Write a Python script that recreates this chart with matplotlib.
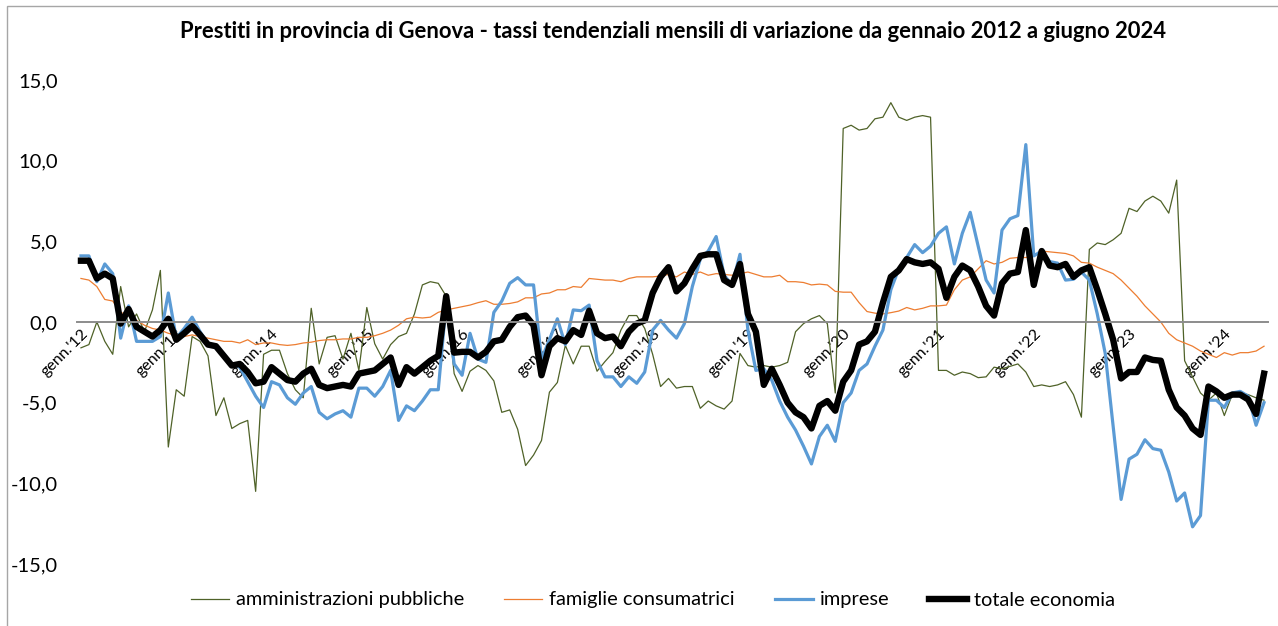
import numpy as np
import matplotlib.pyplot as plt
from matplotlib.patches import Rectangle
from matplotlib.ticker import FuncFormatter

plt.rcParams['font.family'] = ['Lato', 'DejaVu Sans']

# tassi tendenziali mensili, gen 2012 - giu 2024 (una riga per anno)
amministrazioni = [
    -1.6, -1.4, 0.0, -1.2, -2.0, 2.2, -0.3, 0.5, -0.6, 0.75, 3.2, -7.75,
    -4.2, -4.6, -0.9, -1.2, -2.1, -5.8, -4.7, -6.6, -6.3, -6.1, -10.5, -2.0,
    -1.75, -1.75, -3.2, -4.2, -4.7, 0.85, -2.6, -0.95, -0.85, -2.3, -0.7, -3.0,
    0.9, -1.35, -2.3, -1.4, -0.9, -0.7, 0.5, 2.3, 2.5, 2.4, 1.6, -3.2,
    -4.3, -3.05, -2.7, -3.0, -3.65, -5.6, -5.45, -6.65, -8.9, -8.25, -7.35, -4.35,
    -3.75, -1.45, -2.6, -1.5, -1.5, -3.05, -2.45, -1.9, -0.5, 0.4, 0.4, -0.4,
    -2.0, -4.0, -3.5, -4.1, -4.0, -4.0, -5.35, -4.9, -5.2, -5.4, -4.9, -1.95,
    -2.7, -2.8, -2.7, -2.8, -2.7, -2.5, -0.6, -0.1, 0.2, 0.4, -0.1, -4.4,
    12.0, 12.2, 11.9, 12.0, 12.6, 12.7, 13.6, 12.7, 12.5, 12.7, 12.8, 12.7,
    -3.0, -3.0, -3.3, -3.1, -3.2, -3.45, -3.4, -2.8, -2.9, -2.75, -2.6, -3.1,
    -4.0, -3.9, -4.0, -3.9, -3.7, -4.5, -5.9, 4.5, 4.9, 4.8, 5.1, 5.5,
    7.05, 6.85, 7.5, 7.8, 7.5, 6.75, 8.8, -2.4, -3.4, -4.4, -4.85, -4.4,
    -5.8, -4.5, -4.4, -4.5, -4.7, -4.85,
]
famiglie = [
    2.7, 2.6, 2.2, 1.4, 1.3, 0.6, 0.4, 0.1, -0.2, -0.4, -0.5, -0.7,
    -0.8, -0.9, -0.8, -0.9, -1.0, -1.1, -1.2, -1.2, -1.3, -1.1, -1.4, -1.3,
    -1.3, -1.4, -1.45, -1.4, -1.3, -1.25, -1.15, -1.1, -1.1, -1.05, -1.05, -0.95,
    -0.95, -0.85, -0.7, -0.5, -0.2, 0.2, 0.3, 0.25, 0.3, 0.6, 0.75, 0.85,
    0.95, 1.05, 1.2, 1.32, 1.1, 1.1, 1.15, 1.25, 1.5, 1.5, 1.74, 1.8,
    2.0, 2.0, 2.2, 2.15, 2.7, 2.65, 2.6, 2.6, 2.5, 2.7, 2.8, 2.8,
    2.8, 2.85, 2.95, 2.8, 3.1, 2.95, 3.1, 2.9, 3.0, 2.95, 2.9, 3.0,
    3.1, 2.95, 2.8, 2.8, 2.9, 2.5, 2.5, 2.45, 2.3, 2.35, 2.3, 1.9,
    1.85, 1.85, 1.2, 0.65, 0.55, 0.5, 0.58, 0.68, 0.9, 0.75, 0.85, 1.0,
    1.0, 1.05, 2.0, 2.6, 2.8, 3.3, 3.8, 3.6, 3.7, 3.95, 4.0, 4.0,
    4.1, 4.4, 4.35, 4.3, 4.25, 4.1, 3.7, 3.65, 3.4, 3.2, 3.0, 2.6,
    2.1, 1.6, 1.0, 0.5, 0.0, -0.7, -1.1, -1.3, -1.5, -1.8, -2.0, -2.2,
    -1.9, -2.05, -1.9, -1.9, -1.8, -1.5,
]
imprese = [
    4.1, 4.1, 2.5, 3.6, 3.0, -1.0, 1.0, -1.2, -1.2, -1.2, -0.9, 1.8,
    -1.0, -0.4, 0.3, -0.6, -1.4, -1.5, -2.0, -2.6, -2.8, -3.7, -4.6, -5.3,
    -3.7, -3.9, -4.7, -5.1, -4.4, -4.0, -5.6, -6.0, -5.7, -5.5, -5.9, -4.1,
    -4.1, -4.6, -4.0, -3.0, -6.1, -5.2, -5.5, -4.9, -4.2, -4.2, 1.2, -2.6,
    -3.3, -0.7, -2.3, -2.5, 0.6, 1.3, 2.4, 2.75, 2.3, 2.3, -2.3, -1.1,
    0.2, -1.4, 0.75, 0.7, 1.05, -2.4, -3.4, -3.4, -4.0, -3.4, -3.8, -3.1,
    -0.5, 0.1, -0.5, -1.0, -0.1, 2.2, 3.9, 4.4, 5.3, 2.9, 2.3, 4.2,
    -0.5, -3.0, -2.9, -3.6, -4.9, -5.9, -6.7, -7.7, -8.8, -7.1, -6.4, -7.4,
    -5.0, -4.4, -3.0, -2.6, -1.5, -0.5, 2.0, 3.3, 4.0, 4.8, 4.3, 4.7,
    5.5, 5.9, 3.6, 5.5, 6.8, 4.7, 2.6, 1.8, 5.7, 6.4, 6.6, 11.0,
    4.1, 4.4, 3.75, 3.65, 2.6, 2.65, 3.1, 2.6, 0.5, -1.95, -6.5, -11.0,
    -8.5, -8.2, -7.3, -7.85, -7.95, -9.3, -11.1, -10.6, -12.7, -12.0, -4.85, -4.85,
    -5.3, -4.4, -4.3, -4.6, -6.4, -5.0,
]
totale = [
    3.8, 3.8, 2.7, 3.0, 2.7, -0.1, 0.8, -0.3, -0.6, -0.9, -0.5, 0.2,
    -1.1, -0.7, -0.25, -0.8, -1.4, -1.5, -2.1, -2.7, -2.6, -3.1, -3.8, -3.7,
    -2.8, -3.2, -3.6, -3.7, -3.2, -2.9, -3.9, -4.1, -4.0, -3.9, -4.0, -3.2,
    -3.1, -3.0, -2.6, -2.2, -3.9, -2.8, -3.2, -2.8, -2.4, -2.1, 1.6, -1.9,
    -1.85, -1.85, -2.2, -1.85, -1.2, -1.1, -0.3, 0.3, 0.4, -0.2, -3.3, -1.5,
    -1.0, -1.2, -0.5, -0.8, 0.7, -0.7, -1.0, -0.9, -1.5, -0.6, -0.1, 0.1,
    1.8, 2.8, 3.4, 1.9, 2.4, 3.3, 4.1, 4.2, 4.2, 2.6, 2.3, 3.6,
    0.5, -0.6, -3.9, -2.9, -3.9, -5.0, -5.6, -5.9, -6.6, -5.2, -4.9, -5.5,
    -3.7, -3.0, -1.4, -1.2, -0.6, 1.2, 2.8, 3.2, 3.9, 3.7, 3.6, 3.7,
    3.3, 1.5, 2.8, 3.5, 3.2, 2.2, 1.0, 0.4, 2.4, 3.0, 3.1, 5.7,
    2.3, 4.4, 3.5, 3.4, 3.6, 2.8, 3.2, 3.4, 2.0, 0.5, -1.1, -3.5,
    -3.1, -3.1, -2.2, -2.35, -2.4, -4.2, -5.3, -5.8, -6.6, -7.0, -4.0, -4.3,
    -4.7, -4.5, -4.5, -4.8, -5.7, -3.2,
]
anni = ["12", "13", "14", "15", "16", "17", "18", "19", "20", "21", "22", "23", "24"]
etichette = ["genn.'" + a for a in anni]
titolo = ("Prestiti in provincia di Genova - tassi tendenziali mensili "
          "di variazione da gennaio 2012 a giugno 2024")

mesi = np.arange(len(totale))
pos_genn = mesi[::12]

fig = plt.figure(figsize=(12.78, 6.26), dpi=100)
ax = fig.add_axes([0.06025, 0.0605, 0.93192, 0.8502])

ax.plot(mesi, amministrazioni, color="#4F6228", lw=0.9, label="amministrazioni pubbliche")
ax.plot(mesi, famiglie, color="#ED7D31", lw=0.9, label="famiglie consumatrici")
ax.plot(mesi, imprese, color="#5B9BD5", lw=2.3, label="imprese")
ax.plot(mesi, totale, color="black", lw=4.6, label="totale economia")

ax.set_xlim(-0.5, len(mesi) - 0.5)
ax.set_ylim(-16.5, 16.5)

for s in ["top", "right", "left"]:
    ax.spines[s].set_visible(False)
ax.spines["bottom"].set_position(("data", 0))
ax.spines["bottom"].set_color("#8C8C8C")
ax.spines["bottom"].set_linewidth(1.4)

ax.set_xticks(pos_genn)
ax.set_xticklabels(etichette, rotation=45, ha="right", va="top",
                   rotation_mode="anchor", fontsize=11.5)
ax.tick_params(axis="x", length=0, pad=3)

ax.set_yticks(np.arange(-15, 16, 5))
ax.yaxis.set_major_formatter(FuncFormatter(lambda v, p: f"{v:.1f}".replace(".", ",")))
ax.tick_params(axis="y", length=0, pad=14, labelsize=14.5)

fig.text(0.5263, 1 - 32 / 626, titolo, ha="center", va="center",
         fontweight="bold", fontsize=15.8)

fig.legend(loc="center", bbox_to_anchor=(653 / 1278, 1 - 600 / 626), ncol=4,
           frameon=False, fontsize=14.4, handlelength=1.9, columnspacing=2.0,
           handletextpad=0.35)

# cornice del grafico (visibili solo bordo sinistro e superiore)
fig.add_artist(Rectangle((7 / 1278, -0.1), 1.2, 1.1 - 6 / 626, transform=fig.transFigure,
                         fill=False, edgecolor="#A6A6A6", lw=1))

fig.savefig("out.png", dpi=100)
